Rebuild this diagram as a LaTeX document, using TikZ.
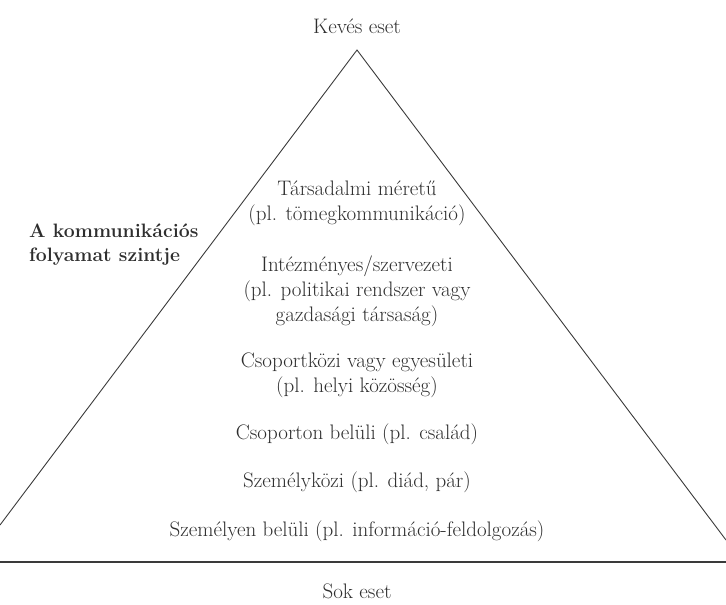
\documentclass[tikz,border=0pt]{standalone}
\usepackage{fontspec}
\setmainfont{Latin Modern Roman}
\definecolor{ink}{HTML}{2E2E2E}
\definecolor{rule}{HTML}{3A3A3A}
\begin{document}
\begin{tikzpicture}[x=1pt,y=-1pt,
  level/.style={text=ink, align=center, inner sep=0pt, font=\fontsize{21}{25}\selectfont},
  caption/.style={level},
  sidelabel/.style={text=ink, align=left, inner sep=0pt, anchor=west, font=\fontsize{19.4}{24}\selectfont\bfseries},
  edge/.style={draw=rule, line width=0.9pt},
  baseline/.style={draw=rule, line width=1.2pt}]
\useasboundingbox (0,0) rectangle (726,605);
% triangle corners
\coordinate (apex) at (357,50);
\coordinate (leftend) at (0,525);
\coordinate (rightend) at (726,540);
\coordinate (baseL) at (0,562);
\coordinate (baseR) at (726,562);
\draw[edge] (leftend) -- (apex) -- (rightend);
\draw[baseline] (baseL) -- (baseR);
% texts
\node[caption] (few) at (357,26) {Kevés eset};
\node[caption] (many) at (357,591) {Sok eset};
\node[level] (l1) at (357,203.5) {Társadalmi méretű\\(pl. tömegkommunikáció)};
\node[level] (l2) at (357,291) {Intézményes/szervezeti\\(pl. politikai rendszer vagy\\gazdasági társaság)};
\node[level] (l3) at (357,375.5) {Csoportközi vagy egyesületi\\(pl. helyi közösség)};
\node[level] (l4) at (357,434) {Csoporton belüli (pl. család)};
\node[level] (l5) at (357,482) {Személyközi (pl. diád, pár)};
\node[level] (l6) at (357,531) {Személyen belüli (pl. információ-feldolgozás)};
\node[sidelabel] (side) at (29,245) {A kommunikációs\\folyamat szintje};
\end{tikzpicture}
\end{document}
